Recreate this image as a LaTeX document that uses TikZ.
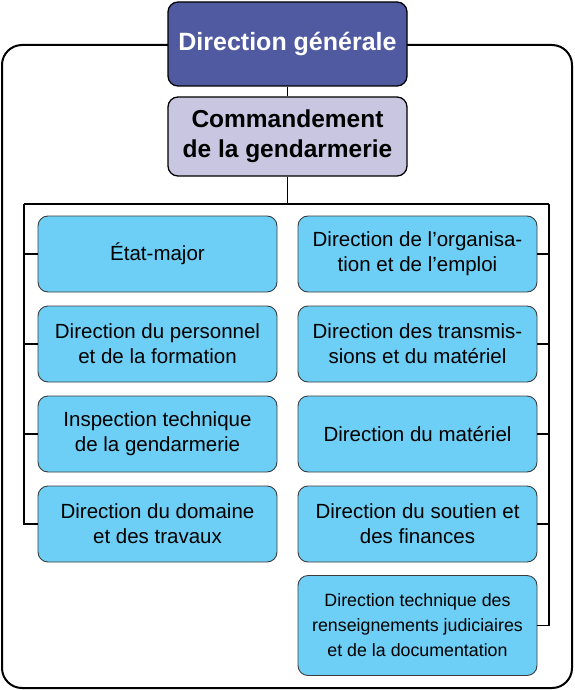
\documentclass[tikz,border=0pt]{standalone}
\usepackage{fontspec}
\setmainfont{Liberation Sans}
\definecolor{dgblue}{RGB}{80,90,160}
\definecolor{cglav}{RGB}{200,198,224}
\definecolor{unitblue}{RGB}{109,207,246}
\definecolor{edgegray}{RGB}{60,60,60}
\tikzset{
  topbox/.style={draw=black, line width=1.3pt, rounded corners=10pt, minimum width=239pt, align=center, inner sep=0pt},
  unitbox/.style={draw=edgegray, line width=0.9pt, rounded corners=10pt, fill=unitblue, minimum width=239pt, minimum height=76pt, align=center, inner sep=0pt, font=\fontsize{20.5}{25}\selectfont},
  link/.style={draw=black, line width=1.4pt},
}
\begin{document}
\begin{tikzpicture}[x=1pt,y=-1pt]
\useasboundingbox (0,0) rectangle (574,690);
% outer frame
\draw[line width=2pt, rounded corners=20pt] (2,45) rectangle (572,688);
% top boxes
\node[topbox, fill=dgblue, minimum height=84pt, text=white, font=\fontsize{25}{29}\selectfont\bfseries] (dg) at (287.5,44) {Direction générale};
\node[topbox, fill=cglav, minimum height=79pt, font=\fontsize{24.5}{30}\selectfont\bfseries] (cg) at (287.5,136.5) {Commandement\\de la gendarmerie};
% units left
\node[unitbox] (l1) at (157.5,254) {État-major};
\node[unitbox] (l2) at (157.5,344) {Direction du personnel\\et de la formation};
\node[unitbox] (l3) at (157.5,434) {Inspection technique\\de la gendarmerie};
\node[unitbox] (l4) at (157.5,524) {Direction du domaine\\et des travaux};
% units right
\node[unitbox] (r1) at (417.5,254) {Direction de l’organisa-\\tion et de l’emploi};
\node[unitbox] (r2) at (417.5,344) {Direction des transmis-\\sions et du matériel};
\node[unitbox] (r3) at (417.5,434) {Direction du matériel};
\node[unitbox] (r4) at (417.5,524) {Direction du soutien et\\des finances};
\node[unitbox, minimum height=100pt, font=\fontsize{17.8}{25}\selectfont] (r5) at (417.5,625.5) {Direction technique des\\renseignements judiciaires\\et de la documentation};
% junctions
\coordinate (jt) at (287.5,204);
\coordinate (jl) at (24,204);
\coordinate (jr) at (549,204);
% connectors
\draw[link] (dg.south) -- (cg.north);
\draw[link] (cg.south) -- (jt);
\draw[link] (jl) -- (jr);
\draw[link] (jl) -- (jl |- l4.west) -- (l4.west);
\foreach \n in {l1,l2,l3} \draw[link] (\n.west) -- (jl |- \n.west);
\draw[link] (jr) -- (jr |- r5.east) -- (r5.east);
\foreach \n in {r1,r2,r3,r4} \draw[link] (\n.east) -- (jr |- \n.east);
\end{tikzpicture}
\end{document}
